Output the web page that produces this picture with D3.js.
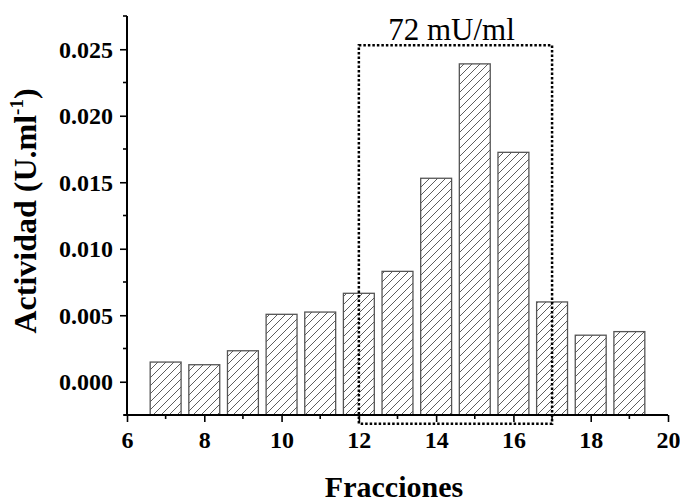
<!DOCTYPE html>
<html>
<head>
<meta charset="utf-8">
<script src="https://cdn.jsdelivr.net/npm/d3@7"></script>
<style>
  html, body { margin: 0; padding: 0; background: #fff; }
  svg { display: block; }
</style>
</head>
<body>
<svg id="chart" width="680" height="504"></svg>
<script>
// ---- data ----
const fractions = [7, 8, 9, 10, 11, 12, 13, 14, 15, 16, 17, 18, 19];
const activity = [0.00148, 0.00128, 0.00233, 0.00507, 0.00524, 0.00665, 0.0083, 0.0153, 0.0239, 0.01725, 0.0060, 0.0035, 0.00377];
const xTicks = [6, 8, 10, 12, 14, 16, 18, 20];
const yTicks = [0.000, 0.005, 0.010, 0.015, 0.020, 0.025];
const boxRange = [12, 17];
const boxTop = 0.0253;
const boxBottom = -0.00315;
const boxLabel = "72 mU/ml";
const xTitle = "Fracciones";

// ---- layout ----
const svg = d3.select("#chart");
const mLeft = 127, mRight = 668, mTop = 16, mBottom = 415;
const x = d3.scaleLinear().domain([6, 20]).range([mLeft, mRight]);
const y = d3.scaleLinear().domain([-0.0025, 0.0275]).range([mBottom, mTop]);
const barW = 0.8;
const serif = "'Liberation Serif', 'Times New Roman', Times, serif";

// hatch pattern
const defs = svg.append("defs");
const pat = defs.append("pattern")
  .attr("id", "hatch")
  .attr("patternUnits", "userSpaceOnUse")
  .attr("width", 8).attr("height", 8);
pat.append("rect").attr("width", 8).attr("height", 8).attr("fill", "#fff");
pat.append("path")
  .attr("d", "M0,8 L8,0 M-2,2 L2,-2 M6,10 L10,6")
  .attr("stroke", "#333").attr("stroke-width", 0.8);

// bars
svg.append("g").selectAll("rect")
  .data(fractions)
  .join("rect")
  .attr("x", (d) => x(d - barW / 2))
  .attr("width", (d) => x(d + barW / 2) - x(d - barW / 2))
  .attr("y", (d, i) => y(activity[i]))
  .attr("height", (d, i) => y(-0.0025) - y(activity[i]))
  .attr("fill", "url(#hatch)")
  .attr("stroke", "#555")
  .attr("stroke-width", 1.3);

// dotted box
svg.append("rect")
  .attr("x", x(boxRange[0]))
  .attr("y", y(boxTop))
  .attr("width", x(boxRange[1]) - x(boxRange[0]))
  .attr("height", y(boxBottom) - y(boxTop))
  .attr("fill", "none")
  .attr("stroke", "#000")
  .attr("stroke-width", 2.5)
  .attr("stroke-dasharray", "2.5,2");

svg.append("text")
  .attr("x", (x(boxRange[0]) + x(boxRange[1])) / 2 - 4)
  .attr("y", 40)
  .attr("text-anchor", "middle")
  .attr("font-family", serif)
  .attr("font-size", 31)
  .attr("fill", "#000")
  .text(boxLabel);

// axes
const xAxis = svg.append("g").attr("transform", `translate(0,${mBottom})`);
xAxis.call(d3.axisBottom(x).tickValues(xTicks).tickSize(7).tickSizeOuter(0).tickFormat(d3.format("d")));
xAxis.append("g").selectAll("line")
  .data(d3.range(7, 20, 2))
  .join("line")
  .attr("x1", (d) => x(d)).attr("x2", (d) => x(d))
  .attr("y1", 0).attr("y2", 4)
  .attr("stroke", "#000").attr("stroke-width", 1.6);

const yAxis = svg.append("g").attr("transform", `translate(${mLeft},0)`);
yAxis.call(d3.axisLeft(y).tickValues(yTicks).tickSize(7).tickSizeOuter(0).tickFormat(d3.format(".3f")));
yAxis.append("g").selectAll("line")
  .data([-0.0025, 0.0025, 0.0075, 0.0125, 0.0175, 0.0225, 0.0275])
  .join("line")
  .attr("x1", 0).attr("x2", -4)
  .attr("y1", (d) => y(d)).attr("y2", (d) => y(d))
  .attr("stroke", "#000").attr("stroke-width", 1.6);

[xAxis, yAxis].forEach((g) => {
  g.attr("font-family", serif).attr("font-size", 24);
  g.select(".domain").attr("stroke", "#000").attr("stroke-width", 2);
  g.selectAll(".tick line").attr("stroke", "#000").attr("stroke-width", 1.6);
  g.selectAll(".tick text")
    .style("font-family", serif)
    .style("font-weight", "bold")
    .style("font-size", "24px")
    .attr("fill", "#000");
});
xAxis.select(".domain").attr("d", `M${mLeft - 3},0H${mRight}`);
yAxis.select(".domain").attr("d", `M0,${mTop}V${mBottom}`);
xAxis.selectAll(".tick text").attr("dy", "0").attr("y", 33);
yAxis.selectAll(".tick text").attr("x", -14).attr("dy", "0.33em");

// titles
const yTitle = svg.append("text")
  .attr("transform", "translate(36,211) rotate(-90)")
  .attr("text-anchor", "middle")
  .attr("font-family", serif)
  .attr("font-weight", "bold")
  .attr("font-size", 32)
  .attr("fill", "#000");
yTitle.append("tspan").text("Actividad (U.ml");
yTitle.append("tspan").attr("font-size", 19).attr("dy", -13).text("-1");
yTitle.append("tspan").attr("dy", 13).text(")");

svg.append("text")
  .attr("x", 394)
  .attr("y", 497)
  .attr("text-anchor", "middle")
  .attr("font-family", serif)
  .attr("font-weight", "bold")
  .attr("font-size", 30)
  .attr("fill", "#000")
  .text(xTitle);
</script>
</body>
</html>
